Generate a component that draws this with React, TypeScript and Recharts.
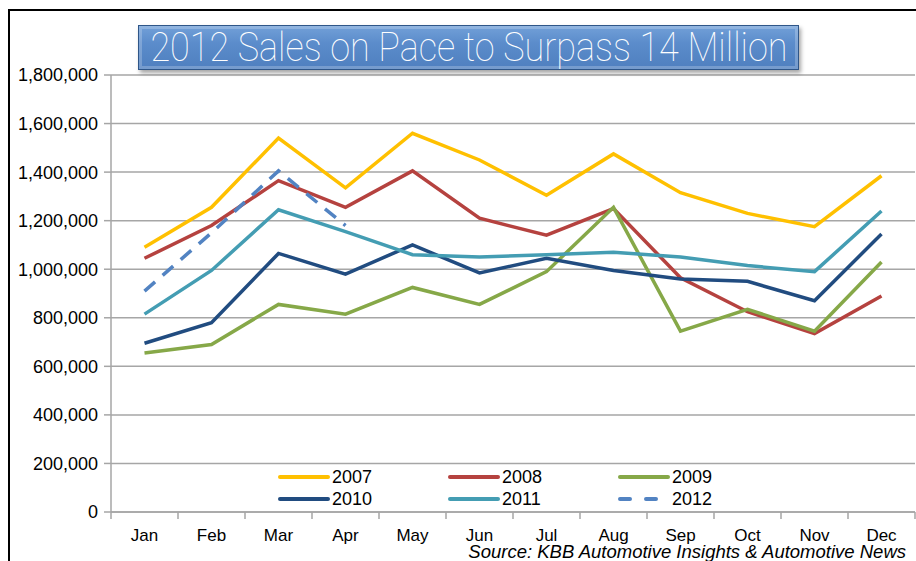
import React from 'react';
import { LineChart, Line, XAxis, YAxis, CartesianGrid, Legend } from 'recharts';

// monthly sales
const months = ['Jan', 'Feb', 'Mar', 'Apr', 'May', 'Jun', 'Jul', 'Aug', 'Sep', 'Oct', 'Nov', 'Dec'];
const sales2007 = [1090000, 1255000, 1540000, 1335000, 1560000, 1450000, 1305000, 1475000, 1315000, 1230000, 1175000, 1385000];
const sales2008 = [1045000, 1180000, 1365000, 1255000, 1405000, 1210000, 1140000, 1250000, 965000, 825000, 735000, 890000];
const sales2009 = [655000, 690000, 855000, 815000, 925000, 855000, 990000, 1255000, 745000, 835000, 745000, 1030000];
const sales2010 = [695000, 780000, 1065000, 980000, 1100000, 985000, 1045000, 995000, 960000, 950000, 870000, 1145000];
const sales2011 = [815000, 995000, 1245000, 1155000, 1060000, 1050000, 1060000, 1070000, 1050000, 1015000, 990000, 1240000];
const sales2012 = [910000, 1150000, 1405000, 1180000];
const yTicks = [0, 200000, 400000, 600000, 800000, 1000000, 1200000, 1400000, 1600000, 1800000];

const series = [
    { key: 'y2007', name: '2007', color: '#FFC000', values: sales2007, dash: undefined },
    { key: 'y2008', name: '2008', color: '#B5423F', values: sales2008, dash: undefined },
    { key: 'y2009', name: '2009', color: '#86A848', values: sales2009, dash: undefined },
    { key: 'y2010', name: '2010', color: '#214C80', values: sales2010, dash: undefined },
    { key: 'y2011', name: '2011', color: '#449DB3', values: sales2011, dash: undefined },
    { key: 'y2012', name: '2012', color: '#5283C2', values: sales2012, dash: '14 10' },
];

const data = months.map((month, i) => {
    const row: any = { month };
    series.forEach((s) => {
        row[s.key] = i < s.values.length ? s.values[i] : null;
    });
    return row;
});

const font = '"Liberation Sans", Arial, sans-serif';

const MonthTick = (props: any) => {
    const { x, y, payload, width } = props;
    const half = width / months.length / 2;
    const last = payload.index === months.length - 1;
    return (
        <g>
            <line x1={x - half} y1={y - 8} x2={x - half} y2={y - 1} stroke="#a6a6a6" strokeWidth={1.5} />
            {last && <line x1={x + half} y1={y - 8} x2={x + half} y2={y - 1} stroke="#a6a6a6" strokeWidth={1.5} />}
            <text x={x} y={y + 21} textAnchor="middle" fontSize={17} fill="#000" fontFamily={font}>
                {payload.value}
            </text>
        </g>
    );
};

const LegendBox = () => (
    <div style={{ display: 'grid', gridTemplateColumns: '170px 170px 170px', rowGap: 2 }}>
        {series.map((s) => (
            <div key={s.key} style={{ display: 'flex', alignItems: 'center', height: 20 }}>
                <svg width={52} height={8}>
                    <line x1={2} y1={4} x2={50} y2={4} stroke={s.color} strokeWidth={4} strokeLinecap="round" strokeDasharray={s.dash ? '10 16' : undefined} />
                </svg>
                <span style={{ fontSize: 18, fontFamily: font, color: '#000', marginLeft: 2 }}>{s.name}</span>
            </div>
        ))}
    </div>
);

export default function App() {
    return (
        <div style={{ position: 'absolute', left: 0, top: 0, width: 916, height: 561, overflow: 'hidden', background: '#fff' }}>
            <div style={{ position: 'absolute', left: 8, top: 9, width: 920, height: 560, borderLeft: '2px solid #000', borderTop: '2px solid #000' }} />
            <LineChart width={916} height={561} data={data} margin={{ top: 75, right: 1, left: 0, bottom: 19 }}>
                <CartesianGrid vertical={false} stroke="#a6a6a6" strokeWidth={1.5} />
                <XAxis
                    dataKey="month"
                    scale="band"
                    height={30}
                    axisLine={{ stroke: '#a6a6a6', strokeWidth: 1.5 }}
                    tickLine={false}
                    tick={<MonthTick />}
                    interval={0}
                />
                <YAxis
                    width={111}
                    domain={[0, 1800000]}
                    ticks={yTicks}
                    interval={0}
                    axisLine={{ stroke: '#a6a6a6', strokeWidth: 1.5 }}
                    tickLine={{ stroke: '#a6a6a6', strokeWidth: 1.5 }}
                    tickSize={7}
                    tickMargin={6}
                    tick={{ fontSize: 18, fill: '#000', fontFamily: font }}
                    tickFormatter={(v) => Number(v).toLocaleString('en-US')}
                />
                <Legend
                    verticalAlign="middle"
                    content={<LegendBox />}
                    wrapperStyle={{ position: 'absolute', left: 278, top: 467, width: 'auto' }}
                />
                {series.map((s) => (
                    <Line
                        key={s.key}
                        type="linear"
                        dataKey={s.key}
                        name={s.name}
                        stroke={s.color}
                        strokeWidth={3.5}
                        strokeDasharray={s.dash}
                        dot={false}
                        activeDot={false}
                        connectNulls={false}
                        isAnimationActive={false}
                    />
                ))}
            </LineChart>
            <div
                style={{
                    position: 'absolute', left: 138, top: 25, width: 659, height: 43,
                    background: 'linear-gradient(#72a0d8, #5b8ccb 40%, #4f7fbf)',
                    border: '1px solid #2f5688',
                    boxShadow: 'inset 0 0 0 3px rgba(255,255,255,0.22), 2px 3px 4px rgba(0,0,0,0.35)',
                    display: 'flex', alignItems: 'center', justifyContent: 'center', overflow: 'hidden',
                }}
            >
                <span style={{ color: '#fff', fontFamily: 'Roboto, sans-serif', fontWeight: 100, fontSize: 40, whiteSpace: 'nowrap', transform: 'scaleX(0.9)', display: 'inline-block' }}>
                    2012 Sales on Pace to Surpass 14 Million
                </span>
            </div>
            <div style={{ position: 'absolute', right: 10, top: 541, fontFamily: font, fontStyle: 'italic', fontSize: 18.5, color: '#000', whiteSpace: 'nowrap' }}>
                Source: KBB Automotive Insights &amp; Automotive News
            </div>
        </div>
    );
}
